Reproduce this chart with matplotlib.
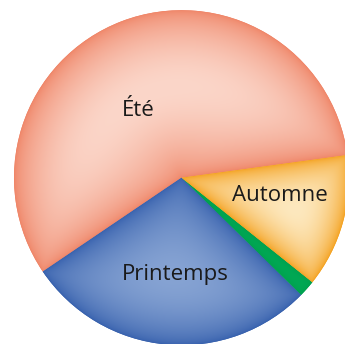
import numpy as np
import matplotlib
matplotlib.use('Agg')
import matplotlib.pyplot as plt

# saisons (parts, en %)
labels = ['Été', 'Printemps', 'Hiver', 'Automne']
values = [57.3, 28.2, 1.6, 12.9]
show_label = [True, True, False, True]
edge_colors = ['#EF8466', '#3660AD', '#00A04E', '#F4A11E']
center_colors = ['#FBD6C9', '#86A3D3', '#00A854', '#FDE8BE']

plt.rcParams['font.family'] = ['Open Sans', 'DejaVu Sans']

fig = plt.figure(figsize=(3.45, 3.44), dpi=100)
ax = fig.add_axes([0, 0, 1, 1])
ax.set_aspect('equal')
ax.axis('off')

R = 1.0
wedges, _ = ax.pie(values, radius=R, startangle=7.8, counterclock=True,
                   colors=edge_colors)


def hex2rgb(h):
    return np.array(matplotlib.colors.to_rgb(h))


def seg_dist(px, py, ux, uy):
    proj = px * ux + py * uy
    d_perp = np.abs(px * uy - py * ux)
    d_org = np.hypot(px, py)
    d_end = np.hypot(px - R * ux, py - R * uy)
    return np.where(proj < 0, d_org, np.where(proj > R, d_end, d_perp))


n = 700
xs = np.linspace(-R, R, n)
X, Y = np.meshgrid(xs, xs)
Rr = np.hypot(X, Y)

for w, c0, c1 in zip(wedges, edge_colors, center_colors):
    t1, t2 = np.deg2rad(w.theta1), np.deg2rad(w.theta2)
    d_arc = np.maximum(R - Rr, 1e-6)
    d1 = np.maximum(seg_dist(X, Y, np.cos(t1), np.sin(t1)), 1e-6)
    d2 = np.maximum(seg_dist(X, Y, np.cos(t2), np.sin(t2)), 1e-6)
    k = 3.0
    d = (d_arc ** -k + d1 ** -k + d2 ** -k) ** (-1 / k)
    ang = np.mod(np.arctan2(Y, X) - t1, 2 * np.pi)
    inside = (ang <= (t2 - t1)) & (Rr <= R)
    dmax = d[inside].max() if inside.any() else 1
    t = np.clip(d / dmax, 0, 1) ** 0.6
    a, b = hex2rgb(c0), hex2rgb(c1)
    img = a[None, None, :] * (1 - t[..., None]) + b[None, None, :] * t[..., None]
    im = ax.imshow(img, extent=(-R, R, -R, R), origin='lower',
                   interpolation='bilinear', zorder=2)
    im.set_clip_path(w)

# étiquettes (positions en pixels de l'image de référence)
r_px = 167.5
cx, cy = 181.5, 177.7
label_px = {'Été': (138, 116), 'Printemps': (175.5, 280), 'Automne': (280, 201)}
for lab, show in zip(labels, show_label):
    if not show:
        continue
    px, py = label_px[lab]
    ax.text((px - cx) / r_px, (cy - py) / r_px, lab, ha='center',
            va='baseline', fontsize=16, color='#1a1a1a', zorder=5)

ax.set_xlim(-cx / r_px, (345 - cx) / r_px)
ax.set_ylim(-(344 - cy) / r_px, cy / r_px)

fig.savefig('out.png', dpi=100)
